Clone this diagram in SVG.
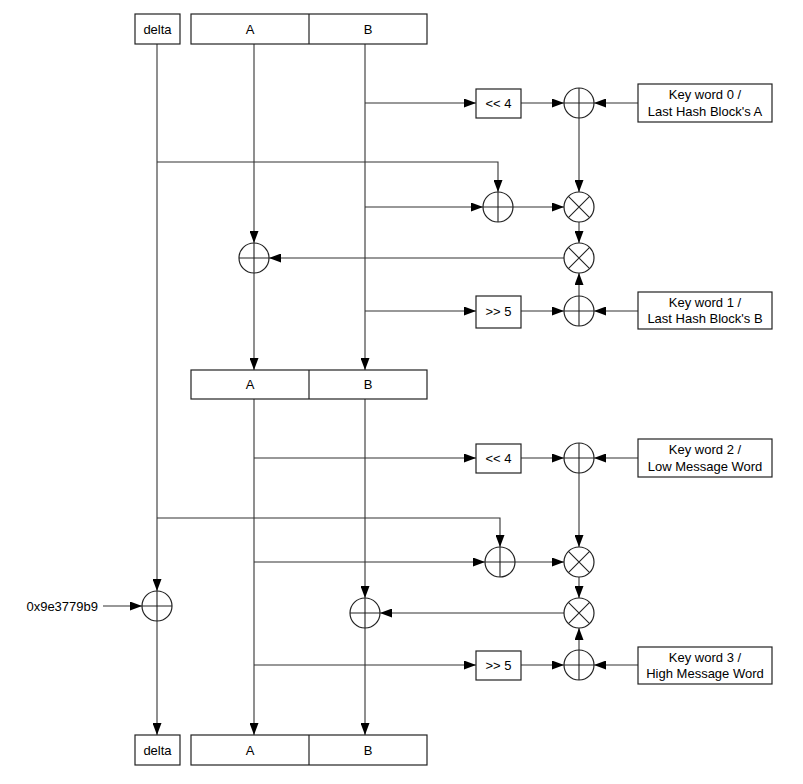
<svg xmlns="http://www.w3.org/2000/svg" width="803" height="784" viewBox="0 0 803 784">
<defs>
<marker id="arr" markerUnits="userSpaceOnUse" markerWidth="12" markerHeight="9" refX="12" refY="4.5" orient="auto">
<path d="M0,0 L12,4.5 L0,9 z" fill="#000"/>
</marker>
<style>
.box{fill:#fff;stroke:#222;stroke-width:1.2}
.op{fill:#fff;stroke:#222;stroke-width:1.2}
.t{font-family:"Liberation Sans",Arial,sans-serif;font-size:13px;fill:#000;text-anchor:middle}
.c{fill:none;stroke:#333;stroke-width:1.1;marker-end:url(#arr)}
</style>
</defs>
<rect width="803" height="784" fill="#fff"/>
<g id="connectors">
<path class="c" d="M157,44 V591"/>
<path class="c" d="M157,621 V735"/>
<path class="c" d="M157,162 H498 V192"/>
<path class="c" d="M157,518 H500 V547"/>
<path class="c" d="M254,44 V243"/>
<path class="c" d="M254,273 V370"/>
<path class="c" d="M254,399 V735"/>
<path class="c" d="M254,458 H476"/>
<path class="c" d="M254,562 H485"/>
<path class="c" d="M254,665 H476"/>
<path class="c" d="M365,44 V370"/>
<path class="c" d="M365,103 H476"/>
<path class="c" d="M365,207 H483"/>
<path class="c" d="M365,311 H476"/>
<path class="c" d="M365,399 V598"/>
<path class="c" d="M365,628 V735"/>
<path class="c" d="M521,103 H564"/>
<path class="c" d="M638,103 H594"/>
<path class="c" d="M579,118 V192"/>
<path class="c" d="M513,207 H564"/>
<path class="c" d="M579,222 V243"/>
<path class="c" d="M579,296 V273"/>
<path class="c" d="M521,311 H564"/>
<path class="c" d="M638,311 H594"/>
<path class="c" d="M564,258 H269"/>
<path class="c" d="M521,458 H564"/>
<path class="c" d="M638,458 H594"/>
<path class="c" d="M579,473 V547"/>
<path class="c" d="M515,562 H564"/>
<path class="c" d="M579,577 V598"/>
<path class="c" d="M579,650 V628"/>
<path class="c" d="M521,665 H564"/>
<path class="c" d="M638,665 H594"/>
<path class="c" d="M564,613 H380"/>
<path class="c" d="M103,606 H142"/>
</g>
<g id="delta_top"><rect class="box" x="135" y="14" width="45" height="30"/><text class="t" x="157.5" y="33.5">delta</text></g>
<g id="ab_top"><rect class="box" x="191" y="14" width="236" height="30"/><line x1="309" y1="14" x2="309" y2="44" stroke="#222" stroke-width="1.2"/><text class="t" x="250" y="33.5">A</text><text class="t" x="368" y="33.5">B</text></g>
<g id="shl4_1"><rect class="box" x="476" y="89" width="45" height="29"/><text class="t" x="498.5" y="107.5">&lt;&lt; 4</text></g>
<g id="add_k0"><circle class="op" cx="579" cy="103" r="15"/><path d="M564,103 H594 M579,88 V118" stroke="#222" stroke-width="1.1"/></g>
<g id="key0"><rect class="box" x="638" y="84" width="134" height="38"/><text class="t" x="705" y="99">Key word 0 /</text><text class="t" x="705" y="115.5">Last Hash Block's A</text></g>
<g id="add_delta1"><circle class="op" cx="498" cy="207" r="15"/><path d="M483,207 H513 M498,192 V222" stroke="#222" stroke-width="1.1"/></g>
<g id="mul1"><circle class="op" cx="579" cy="207" r="15"/><path d="M568.4,196.4 L589.6,217.6 M589.6,196.4 L568.4,217.6" stroke="#222" stroke-width="1.1"/></g>
<g id="mul2"><circle class="op" cx="579" cy="258" r="15"/><path d="M568.4,247.4 L589.6,268.6 M589.6,247.4 L568.4,268.6" stroke="#222" stroke-width="1.1"/></g>
<g id="addA"><circle class="op" cx="254" cy="258" r="15"/><path d="M239,258 H269 M254,243 V273" stroke="#222" stroke-width="1.1"/></g>
<g id="shr5_1"><rect class="box" x="476" y="296" width="45" height="32"/><text class="t" x="498.5" y="316">&gt;&gt; 5</text></g>
<g id="add_k1"><circle class="op" cx="579" cy="311" r="15"/><path d="M564,311 H594 M579,296 V326" stroke="#222" stroke-width="1.1"/></g>
<g id="key1"><rect class="box" x="638" y="292" width="134" height="37"/><text class="t" x="705" y="306.5">Key word 1 /</text><text class="t" x="705" y="323">Last Hash Block's B</text></g>
<g id="ab_mid"><rect class="box" x="191" y="370" width="236" height="29"/><line x1="309" y1="370" x2="309" y2="399" stroke="#222" stroke-width="1.2"/><text class="t" x="250" y="389">A</text><text class="t" x="368" y="389">B</text></g>
<g id="shl4_2"><rect class="box" x="476" y="444" width="45" height="29"/><text class="t" x="498.5" y="462.5">&lt;&lt; 4</text></g>
<g id="add_k2"><circle class="op" cx="579" cy="458" r="15"/><path d="M564,458 H594 M579,443 V473" stroke="#222" stroke-width="1.1"/></g>
<g id="key2"><rect class="box" x="638" y="439" width="134" height="38"/><text class="t" x="705" y="454">Key word 2 /</text><text class="t" x="705" y="470.5">Low Message Word</text></g>
<g id="add_delta2"><circle class="op" cx="500" cy="562" r="15"/><path d="M485,562 H515 M500,547 V577" stroke="#222" stroke-width="1.1"/></g>
<g id="mul3"><circle class="op" cx="579" cy="562" r="15"/><path d="M568.4,551.4 L589.6,572.6 M589.6,551.4 L568.4,572.6" stroke="#222" stroke-width="1.1"/></g>
<g id="mul4"><circle class="op" cx="579" cy="613" r="15"/><path d="M568.4,602.4 L589.6,623.6 M589.6,602.4 L568.4,623.6" stroke="#222" stroke-width="1.1"/></g>
<g id="addB"><circle class="op" cx="365" cy="613" r="15"/><path d="M350,613 H380 M365,598 V628" stroke="#222" stroke-width="1.1"/></g>
<g id="shr5_2"><rect class="box" x="476" y="651" width="45" height="29"/><text class="t" x="498.5" y="669.5">&gt;&gt; 5</text></g>
<g id="add_k3"><circle class="op" cx="579" cy="665" r="15"/><path d="M564,665 H594 M579,650 V680" stroke="#222" stroke-width="1.1"/></g>
<g id="key3"><rect class="box" x="638" y="647" width="134" height="37"/><text class="t" x="705" y="661.5">Key word 3 /</text><text class="t" x="705" y="678">High Message Word</text></g>
<g id="const"><text class="t" x="98" y="610.5" style="text-anchor:end">0x9e3779b9</text></g>
<g id="add_const"><circle class="op" cx="157" cy="606" r="15"/><path d="M142,606 H172 M157,591 V621" stroke="#222" stroke-width="1.1"/></g>
<g id="delta_bot"><rect class="box" x="135" y="735" width="45" height="30"/><text class="t" x="157.5" y="754.5">delta</text></g>
<g id="ab_bot"><rect class="box" x="191" y="735" width="236" height="30"/><line x1="309" y1="735" x2="309" y2="765" stroke="#222" stroke-width="1.2"/><text class="t" x="250" y="754.5">A</text><text class="t" x="368" y="754.5">B</text></g>
</svg>
